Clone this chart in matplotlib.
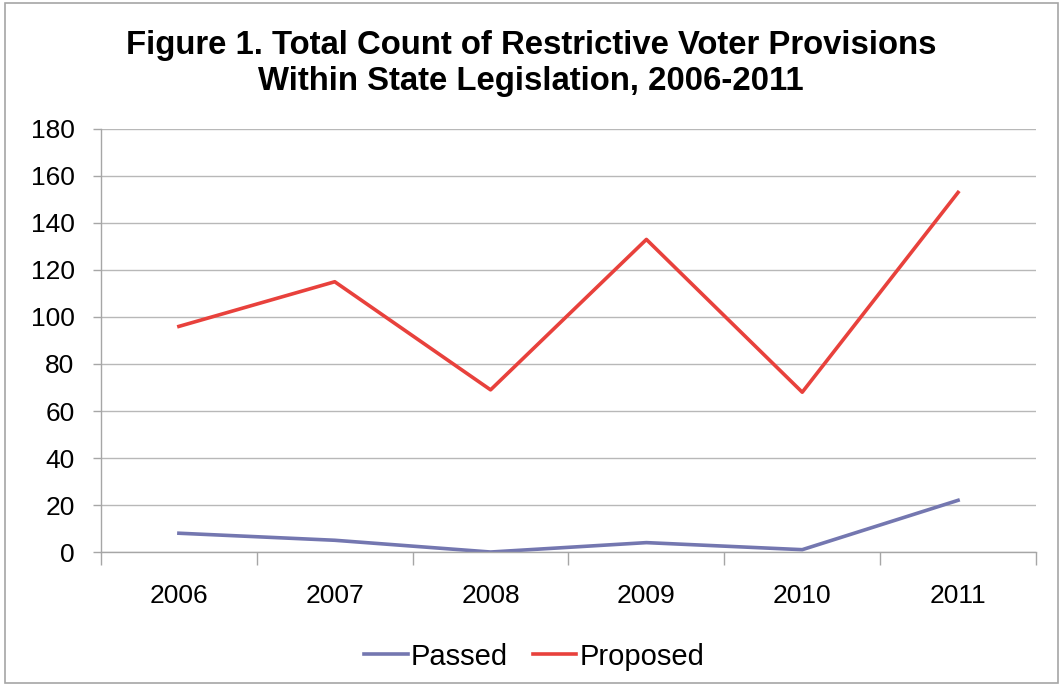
#!/usr/bin/env python3

import matplotlib.pyplot as plt
from matplotlib.patches import Rectangle

"""
Figure 1: restrictive voter provisions, passed vs proposed
"""

years = ["2006", "2007", "2008", "2009", "2010", "2011"]
passed = [8, 5, 0, 4, 1, 22]
proposed = [96, 115, 69, 133, 68, 153]

y_ticks = [0, 20, 40, 60, 80, 100, 120, 140, 160, 180]


def main():
    plt.rcParams["font.family"] = ["Liberation Sans", "DejaVu Sans"]

    fig = plt.figure(figsize=(10.62, 6.86), dpi=100)
    fig.patches.append(Rectangle((0.005, 0.004), 0.991, 0.991, transform=fig.transFigure,
                                 fill=False, edgecolor="#a6a6a6", linewidth=1.2))

    ax = fig.add_axes([0.0951, 0.1953, 0.8804, 0.6167])
    x = list(range(len(years)))
    ax.plot(x, passed, color="#7477b0", linewidth=2.6, label="Passed")
    ax.plot(x, proposed, color="#e8413c", linewidth=2.6, label="Proposed")

    ax.set_xlim(-0.5, len(years) - 0.5)
    ax.set_ylim(0, 180)
    ax.set_yticks(y_ticks)
    ax.grid(axis="y", color="#b8b8b8", linewidth=1.0)
    ax.set_axisbelow(True)

    # tick marks on category boundaries, labels on centres
    ax.set_xticks([i - 0.5 for i in range(len(years) + 1)])
    ax.set_xticklabels([])
    ax.set_xticks(x, minor=True)
    ax.set_xticklabels(years, minor=True)
    ax.tick_params(axis="x", which="major", length=9, color="#a6a6a6", width=1.0)
    ax.tick_params(axis="x", which="minor", length=0, labelsize=19, pad=23)
    ax.tick_params(axis="y", length=6, color="#a6a6a6", width=1.0, labelsize=19, pad=13)

    for side in ["top", "right"]:
        ax.spines[side].set_visible(False)
    for side in ["left", "bottom"]:
        ax.spines[side].set_color("#a6a6a6")
        ax.spines[side].set_linewidth(1.0)

    fig.text(0.5, 0.907, "Figure 1. Total Count of Restrictive Voter Provisions\nWithin State Legislation, 2006-2011",
             ha="center", va="center", fontsize=23.7, fontweight="bold", linespacing=1.2)

    fig.legend(loc="center", bbox_to_anchor=(0.503, 0.043), ncol=2, frameon=False,
               fontsize=21, handlelength=1.5, handletextpad=0.1, columnspacing=0.85)

    plt.savefig("out.png", dpi=100)


if __name__ == "__main__":
    main()
